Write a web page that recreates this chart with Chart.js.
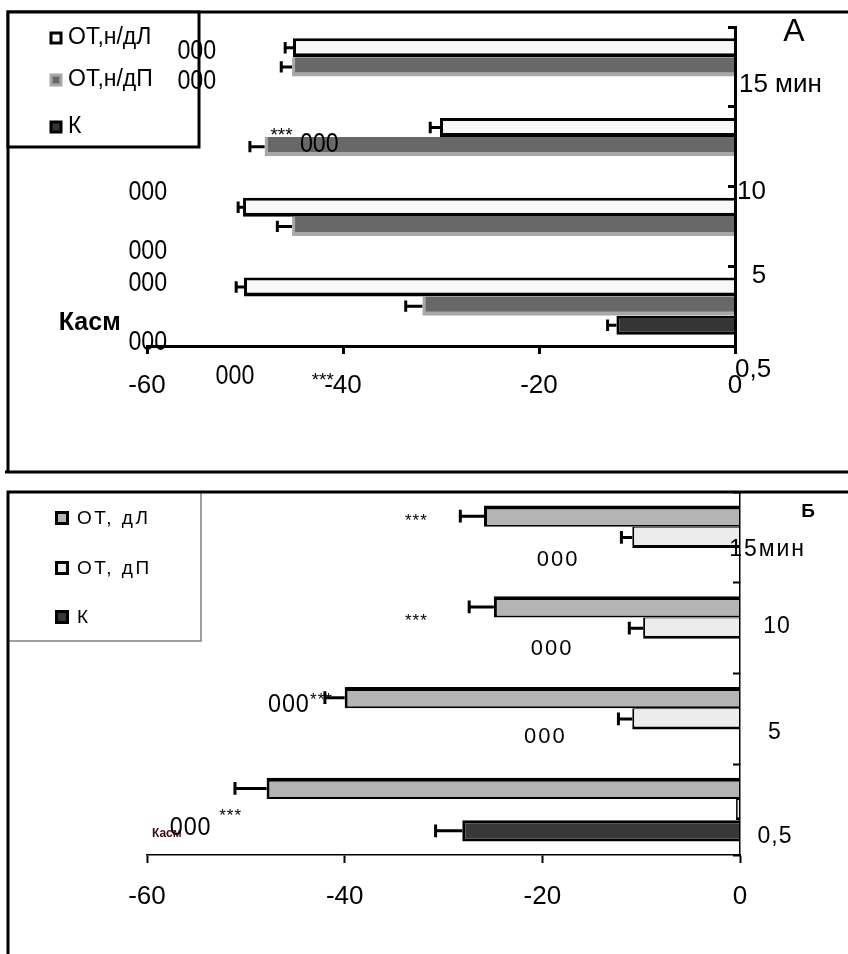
<!DOCTYPE html>
<html><head><meta charset="utf-8">
<script src="https://cdn.jsdelivr.net/npm/chart.js@4"></script>
<style>
html,body{margin:0;padding:0;background:#fff;}
#wrap{position:relative;width:848px;height:954px;overflow:hidden;background:#fff}
#ca{position:absolute;left:0;top:0}
#cb{position:absolute;left:0;top:480px}
</style></head><body>
<div id="wrap"><canvas id="ca" width="848" height="480"></canvas><canvas id="cb" width="848" height="474"></canvas></div>
<script>
// ---------- data: panel А ----------
const categoriesA = ['15 мин', '10', '5', '0,5'];
const otNdL = [-45.1, -30.1, -50.2, -50.1];
const otNdP = [-45.2, -48.0, -45.2, -31.9];
const kontrA = [null, null, null, -12.1];
const errNdL = [0.8, 1.0, 0.5, 0.8];
const errNdP = [1.1, 1.5, 1.5, 1.7];
const errKontrA = [null, null, null, 0.9];

// ---------- data: panel Б ----------
const categoriesB = ['15мин', '10', '5', '0,5'];
const otDL = [-25.9, -24.9, -40.0, -47.9];
const otDP = [-10.9, -9.8, -10.9, -0.4];
const kontrB = [null, null, null, -28.1];
const errDL = [2.4, 2.5, 2.0, 3.2];
const errDP = [1.1, 1.4, 1.4, 0];
const errKontrB = [null, null, null, 2.7];

const xTicks = [-60, -40, -20, 0];

const FONT = "'Liberation Sans', Arial, sans-serif";
Chart.defaults.font.family = FONT;
Chart.defaults.color = '#000';

function drawTxt(ctx, text, x, y, o) {
  ctx.save();
  ctx.font = (o.bold ? 'bold ' : '') + o.size + 'px ' + FONT;
  ctx.fillStyle = o.color || '#000';
  ctx.textBaseline = 'middle';
  ctx.textAlign = o.align || 'left';
  if (o.ls) ctx.letterSpacing = o.ls + 'px';
  ctx.translate(x, y);
  ctx.scale(o.sx || 1, 1);
  ctx.fillText(text, 0, 0);
  ctx.restore();
}

function errorBars(errs, lw) {
  return {
    id: 'errbars',
    afterDatasetsDraw(chart) {
      const ctx = chart.ctx, xs = chart.scales.x;
      chart.data.datasets.forEach((ds, i) => {
        const meta = chart.getDatasetMeta(i);
        meta.data.forEach((bar, j) => {
          const v = ds.data[j], e = errs[i][j];
          if (v == null || !e) return;
          const x0 = xs.getPixelForValue(v), x1 = xs.getPixelForValue(v - e);
          const h = bar.height * 0.6;
          ctx.save();
          ctx.strokeStyle = '#000'; ctx.lineWidth = lw;
          ctx.beginPath();
          ctx.moveTo(x0, bar.y); ctx.lineTo(x1, bar.y);
          ctx.moveTo(x1, bar.y - h / 2); ctx.lineTo(x1, bar.y + h / 2);
          ctx.stroke();
          ctx.restore();
        });
      });
    }
  };
}

function legendMarker(ctx, cx, cy, s, fill, stroke, lw) {
  ctx.save();
  ctx.fillStyle = stroke; ctx.fillRect(cx - s / 2, cy - s / 2, s, s);
  ctx.fillStyle = fill; ctx.fillRect(cx - s / 2 + lw, cy - s / 2 + lw, s - 2 * lw, s - 2 * lw);
  ctx.restore();
}

// annotation anchors in data space: [text, x value, category position, style]
const notesA = [
  ['000', -56.9, -0.19, 'n'], ['000', -56.9, 0.18, 'n'],
  ['***', -47.4, 0.87, 's'], ['000', -44.4, 0.97, 'n'],
  ['000', -61.9, 1.57, 'n'], ['000', -61.9, 2.32, 'n'], ['000', -61.9, 2.72, 'n'],
  ['Касм', -69.0, 3.21, 'b'], ['000', -61.9, 3.46, 'n'],
  ['000', -53.0, 3.88, 'n'], ['***', -43.2, 3.93, 's']
];
const catPosA = [[0.4, 0.23, 'left'], [0.2, 1.57, 'left'], [1.7, 2.62, 'left'], [0, 3.80, 'left']];

const chartA = new Chart(document.getElementById('ca'), {
  type: 'bar',
  data: {
    labels: categoriesA,
    datasets: [
      { label: 'ОТ,н/дЛ', data: otNdL, backgroundColor: '#f8f8f8', borderColor: '#000', borderWidth: { top: 3, bottom: 4, left: 3, right: 0 }, borderSkipped: false },
      { label: 'ОТ,н/дП', data: otNdP, backgroundColor: '#686868', borderColor: '#a8a8a8', borderWidth: { top: 0, bottom: 4, left: 3, right: 0 }, borderSkipped: false },
      { label: 'К', data: kontrA, backgroundColor: '#353535', borderColor: '#000', borderWidth: { top: 3, bottom: 3, left: 3, right: 0 }, borderSkipped: false }
    ]
  },
  options: {
    indexAxis: 'y', responsive: false, animation: false,
    datasets: { bar: { categoryPercentage: 0.72, barPercentage: 1 } },
    layout: { padding: { left: 147, top: 27, right: 0, bottom: 0 } },
    plugins: { legend: { display: false }, tooltip: { enabled: false } },
    scales: {
      x: {
        type: 'linear', position: 'bottom', min: -60, max: 0,
        afterBuildTicks: s => { s.ticks = xTicks.map(v => ({ value: v })); },
        afterFit: s => { s.height = 134; },
        grid: { drawOnChartArea: false, drawTicks: true, tickLength: 8, tickWidth: 3, tickColor: '#000' },
        border: { display: true, width: 3, color: '#000', z: 1 },
        ticks: { font: { size: 26 }, color: '#000', padding: 16, maxRotation: 0 }
      },
      y: {
        position: 'right',
        afterFit: s => { s.width = 113; },
        ticks: { display: false },
        grid: { drawOnChartArea: false, offset: true, tickLength: -7, tickWidth: 3, tickColor: '#000' },
        border: { display: true, width: 3, color: '#000', z: 1 }
      }
    }
  },
  plugins: [errorBars([errNdL, errNdP, errKontrA], 3), {
    id: 'decorA',
    afterDraw(chart) {
      const ctx = chart.ctx, xs = chart.scales.x, ys = chart.scales.y;
      // frame
      ctx.save();
      ctx.strokeStyle = '#000'; ctx.lineWidth = 3;
      ctx.beginPath();
      ctx.moveTo(8, 472); ctx.lineTo(8, 12); ctx.lineTo(848, 12);
      ctx.moveTo(5, 472); ctx.lineTo(848, 472);
      ctx.stroke();
      // legend box
      ctx.fillStyle = '#fff'; ctx.fillRect(8, 12, 191, 135);
      ctx.strokeRect(8, 12, 191, 135);
      ctx.restore();
      const ds = chart.data.datasets;
      const ly = [38, 80, 127];
      legendMarker(ctx, 56, ly[0], 13, '#ffffff', '#000', 3);
      legendMarker(ctx, 56, ly[1], 13, '#686868', '#a8a8a8', 3);
      legendMarker(ctx, 56, ly[2], 13, '#353535', '#000', 3);
      ds.forEach((d, i) => drawTxt(ctx, d.label, 68, ly[i], { size: 23 }));
      // annotations
      notesA.forEach(([t, v, c, st]) => {
        const x = xs.getPixelForValue(v), y = ys.getPixelForValue(c);
        if (st === 'n') drawTxt(ctx, t, x, y, { size: 27, sx: 0.86 });
        else if (st === 's') drawTxt(ctx, t, x, y, { size: 19 });
        else drawTxt(ctx, t, x, y, { size: 25, bold: true });
      });
      // category labels
      chart.data.labels.forEach((lab, i) => {
        const [v, c, al] = catPosA[i];
        drawTxt(ctx, lab, xs.getPixelForValue(v), ys.getPixelForValue(c), { size: 26, align: al });
      });
      // panel letter
      drawTxt(ctx, 'А', xs.getPixelForValue(6.0), ys.getPixelForValue(-0.44), { size: 32, align: 'center' });
    }
  }]
});

const notesB = [
  ['***', -33.9, -0.18, 's'], ['000', -18.4, 0.25, 'c'],
  ['***', -33.9, 0.93, 's'], ['000', -19.0, 1.23, 'c'],
  ['000', -47.76, 1.847, 'n'], ['***', -43.5, 1.79, 's'],
  ['000', -19.7, 2.20, 'c'],
  ['Касм', -58.0, 3.27, 'k'], ['000', -57.7, 3.20, 'n'], ['***', -52.7, 3.07, 's']
];
const catPosB = [[-1.1, 0.139, 'left'], [3.74, 0.988, 'center'], [3.54, 2.156, 'center'], [3.54, 3.30, 'center']];

const chartB = new Chart(document.getElementById('cb'), {
  type: 'bar',
  data: {
    labels: categoriesB,
    datasets: [
      { label: 'ОТ, дЛ', data: otDL, backgroundColor: '#b4b4b4', borderColor: '#000', borderWidth: { top: 4, bottom: 2, left: 3, right: 0 }, borderSkipped: false },
      { label: 'ОТ, дП', data: otDP, backgroundColor: '#ececec', borderColor: '#000', borderWidth: { top: 1, bottom: 3, left: 2, right: 0 }, borderSkipped: false },
      { label: 'К', data: kontrB, backgroundColor: '#383838', borderColor: '#000', borderWidth: { top: 3, bottom: 3, left: 3, right: 0 }, borderSkipped: false }
    ]
  },
  options: {
    indexAxis: 'y', responsive: false, animation: false,
    datasets: { bar: { categoryPercentage: 0.7, barPercentage: 1 } },
    layout: { padding: { left: 147, top: 12, right: 0, bottom: 0 } },
    plugins: { legend: { display: false }, tooltip: { enabled: false } },
    scales: {
      x: {
        type: 'linear', position: 'bottom', min: -60, max: 0,
        afterBuildTicks: s => { s.ticks = xTicks.map(v => ({ value: v })); },
        afterFit: s => { s.height = 99; },
        grid: { drawOnChartArea: false, drawTicks: true, tickLength: 8, tickWidth: 2, tickColor: '#000' },
        border: { display: true, width: 1.5, color: '#000', z: 1 },
        ticks: { font: { size: 26 }, color: '#000', padding: 18, maxRotation: 0 }
      },
      y: {
        position: 'right',
        afterFit: s => { s.width = 108; },
        ticks: { display: false },
        grid: { drawOnChartArea: false, offset: true, tickLength: -7, tickWidth: 2, tickColor: '#000' },
        border: { display: true, width: 1.5, color: '#000', z: 1 }
      }
    }
  },
  plugins: [errorBars([errDL, errDP, errKontrB], 3), {
    id: 'decorB',
    afterDraw(chart) {
      const ctx = chart.ctx, xs = chart.scales.x, ys = chart.scales.y;
      ctx.save();
      // legend box (thin grey right/bottom)
      ctx.strokeStyle = '#808080'; ctx.lineWidth = 1.5;
      ctx.beginPath(); ctx.moveTo(201, 12); ctx.lineTo(201, 161); ctx.lineTo(8, 161); ctx.stroke();
      // frame
      ctx.strokeStyle = '#000'; ctx.lineWidth = 3;
      ctx.beginPath(); ctx.moveTo(8, 474); ctx.lineTo(8, 12); ctx.lineTo(848, 12); ctx.stroke();
      ctx.restore();
      const ds = chart.data.datasets;
      const ly = [38, 88, 137];
      const fills = ['#b4b4b4', '#ececec', '#383838'];
      ds.forEach((d, i) => {
        legendMarker(ctx, 62, ly[i], 14, fills[i], '#000', 3);
        drawTxt(ctx, d.label, 77, ly[i] + 1, { size: 19, ls: 2.5 });
      });
      notesB.forEach(([t, v, c, st]) => {
        const x = xs.getPixelForValue(v), y = ys.getPixelForValue(c);
        if (st === 'n') drawTxt(ctx, t, x, y, { size: 26, sx: 0.9, ls: 1 });
        else if (st === 'c') drawTxt(ctx, t, x, y, { size: 22, align: 'center', ls: 2 });
        else if (st === 's') drawTxt(ctx, t, x, y, { size: 17, ls: 1 });
        else drawTxt(ctx, t, x, y, { size: 12, bold: true, align: 'center', color: '#3c0c0c' });
      });
      chart.data.labels.forEach((lab, i) => {
        const [v, c, al] = catPosB[i];
        drawTxt(ctx, lab, xs.getPixelForValue(v), ys.getPixelForValue(c), { size: 23, align: al, ls: i === 0 ? 2 : 1 });
      });
      drawTxt(ctx, 'Б', xs.getPixelForValue(6.9), ys.getPixelForValue(-0.28), { size: 19, bold: true, align: 'center' });
    }
  }]
});
</script>
</body></html>
